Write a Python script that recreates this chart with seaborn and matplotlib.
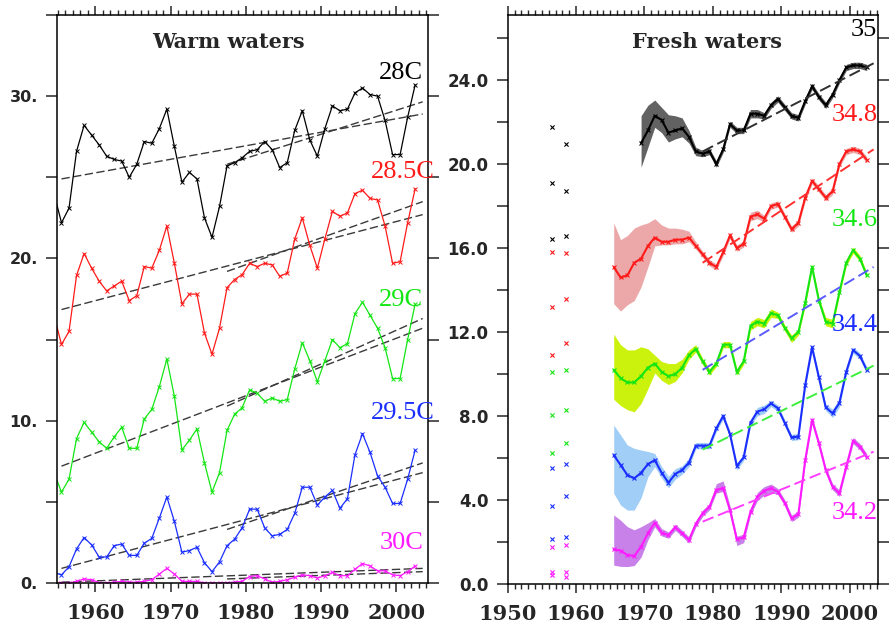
import numpy as np
import matplotlib
matplotlib.use("Agg")
import matplotlib.pyplot as plt
import seaborn as sns

# ==========================================
# DATA - warm waters (left panel), 1954-2002
# ==========================================
warm_years = np.arange(1954, 2003)
warm_28 = [24.0, 22.2, 23.1, 26.6, 28.2, 27.6, 27.0, 26.3, 26.1, 26.0,
           25.0, 25.8, 27.2, 27.1, 28.0, 29.2, 26.9, 24.7, 25.3, 24.9,
           22.5, 21.3, 23.2, 25.7, 25.9, 26.2, 26.6, 26.7, 27.2, 26.7,
           25.6, 25.9, 27.9, 29.1, 27.3, 26.3, 28.0, 29.4, 29.1, 29.2,
           30.2, 30.5, 30.1, 30.0, 28.5, 26.4, 26.4, 28.7, 30.7]
warm_285 = [16.5, 14.7, 15.5, 18.95, 20.3, 19.4, 18.6, 18.0, 18.3, 18.6,
            17.4, 17.7, 19.5, 19.4, 20.5, 22.0, 19.7, 17.2, 17.8, 17.8,
            15.4, 14.1, 15.7, 18.2, 18.7, 19.0, 19.7, 19.5, 19.7, 19.6,
            18.9, 19.1, 21.2, 22.5, 20.8, 19.4, 21.2, 22.9, 22.6, 22.8,
            24.0, 24.2, 23.7, 23.6, 22.0, 19.7, 19.8, 22.2, 24.3]
warm_29 = [6.8, 5.6, 6.4, 8.9, 9.9, 9.3, 8.7, 8.3, 9.0, 9.6,
           8.3, 8.3, 10.1, 10.7, 12.1, 13.8, 11.5, 8.2, 8.8, 9.5,
           7.4, 5.6, 6.8, 9.4, 10.4, 10.8, 11.9, 11.7, 11.2, 11.4,
           11.2, 11.3, 13.2, 14.8, 13.7, 12.4, 13.7, 15.0, 14.5, 14.75,
           16.6, 17.3, 16.5, 15.7, 14.5, 12.6, 12.6, 15.0, 17.2]
warm_295 = [0.65, 0.5, 1.0, 2.1, 2.8, 2.35, 1.6, 1.6, 2.3, 2.4,
            1.7, 1.7, 2.45, 2.75, 4.0, 5.3, 3.8, 1.9, 2.0, 2.2,
            1.25, 0.7, 1.3, 2.3, 2.7, 3.4, 4.55, 4.55, 3.4, 2.9,
            3.0, 3.3, 4.3, 5.9, 5.9, 4.8, 5.3, 5.7, 4.6, 5.2,
            7.9, 9.2, 8.05, 6.6, 5.9, 4.9, 4.9, 6.4, 8.2]
warm_30 = [0.0, 0.0, 0.0, 0.1, 0.25, 0.2, 0.02, 0.0, 0.05, 0.1,
           0.05, 0.05, 0.1, 0.2, 0.55, 0.9, 0.55, 0.1, 0.1, 0.1,
           0.0, 0.0, 0.0, 0.02, 0.05, 0.1, 0.4, 0.45, 0.25, 0.05,
           0.1, 0.2, 0.35, 0.5, 0.45, 0.3, 0.45, 0.65, 0.45, 0.45,
           0.85, 1.2, 1.05, 0.75, 0.75, 0.5, 0.45, 0.7, 1.05]
warm_labels = ['28C', '28.5C', '29C', '29.5C', '30C']

# linear trends: whole record (1955-2003) and recent (1977-2003)
trend_years_full = [1955, 2003]
trend_years_late = [1977, 2003]
warm_trend_full = [(24.9, 28.9), (16.85, 22.7), (7.2, 15.7), (0.9, 6.8), (0.05, 0.9)]
warm_trend_late = [(25.8, 29.65), (19.2, 23.5), (10.9, 16.3), (3.3, 7.4), (0.25, 0.7)]

# ==========================================
# DATA - fresh waters (right panel)
# ==========================================
fresh_years = np.arange(1965, 2003)
fresh_years_35 = np.arange(1969, 2003)
fresh_35 = [21.0, 21.6, 22.3, 22.1, 21.5, 21.6, 21.7, 21.3, 20.6, 20.5,
            20.6, 20.0, 20.7, 21.9, 21.6, 21.6, 22.4, 22.4, 22.3, 22.8,
            23.1, 22.7, 22.3, 22.2, 23.0, 23.7, 23.2, 22.8, 23.3, 24.0,
            24.6, 24.7, 24.7, 24.6]
fresh_35_hi = [1.3, 1.2, 0.75, 0.6, 0.85, 0.7, 0.5, 0.3, 0.2, 0.15,
               0.15, 0.15, 0.15, 0.15, 0.15, 0.15, 0.2, 0.2, 0.15, 0.15,
               0.15, 0.15, 0.15, 0.15, 0.15, 0.15, 0.15, 0.15, 0.15, 0.15,
               0.15, 0.15, 0.15, 0.15]
fresh_35_lo = [1.15, 0.8, 0.55, 0.6, 0.45, 0.4, 0.4, 0.3, 0.2, 0.15,
               0.15, 0.15, 0.15, 0.15, 0.15, 0.15, 0.2, 0.2, 0.15, 0.15,
               0.15, 0.15, 0.15, 0.15, 0.15, 0.15, 0.15, 0.15, 0.15, 0.15,
               0.15, 0.15, 0.15, 0.15]
fresh_348 = [15.1, 14.6, 14.7, 15.3, 15.5, 16.1, 16.5, 16.3, 16.3, 16.4,
             16.4, 16.5, 16.1, 15.7, 15.3, 15.1, 15.8, 16.6, 16.0, 16.2,
             17.5, 17.6, 17.4, 18.0, 18.1, 17.5, 16.9, 17.2, 18.4, 19.2,
             18.8, 18.4, 18.7, 20.0, 20.6, 20.7, 20.6, 20.2]
fresh_348_hi = [2.1, 1.8, 1.9, 1.65, 1.6, 1.1, 0.9, 0.8, 0.65, 0.55,
                0.5, 0.3, 0.2, 0.15, 0.15, 0.15, 0.15, 0.15, 0.15, 0.15,
                0.2, 0.2, 0.15, 0.15, 0.15, 0.15, 0.15, 0.15, 0.15, 0.15,
                0.15, 0.15, 0.15, 0.15, 0.15, 0.15, 0.15, 0.15]
fresh_348_lo = [1.75, 1.6, 1.4, 1.8, 1.35, 1.0, 0.4, 0.15, 0.15, 0.2,
                0.2, 0.2, 0.15, 0.15, 0.15, 0.15, 0.15, 0.15, 0.15, 0.15,
                0.2, 0.2, 0.15, 0.15, 0.15, 0.15, 0.15, 0.15, 0.15, 0.15,
                0.15, 0.15, 0.15, 0.15, 0.15, 0.15, 0.15, 0.15]
fresh_346 = [10.2, 9.8, 9.6, 9.6, 9.9, 10.3, 10.5, 10.1, 9.9, 10.0,
             10.3, 10.9, 11.2, 10.6, 10.1, 10.5, 11.4, 11.4, 10.1, 10.6,
             12.3, 12.5, 12.4, 12.9, 12.8, 12.2, 11.7, 12.0, 13.4, 15.1,
             13.5, 12.5, 12.4, 13.9, 15.3, 15.9, 15.5, 14.7]
fresh_346_hi = [1.7, 1.6, 1.55, 1.55, 1.4, 0.9, 0.4, 0.5, 0.6, 0.5,
                0.4, 0.25, 0.2, 0.15, 0.15, 0.15, 0.15, 0.15, 0.15, 0.15,
                0.2, 0.2, 0.2, 0.2, 0.15, 0.15, 0.15, 0.15, 0.15, 0.15,
                0.15, 0.2, 0.2, 0.15, 0.15, 0.15, 0.15, 0.15]
fresh_346_lo = [1.4, 1.3, 1.3, 1.4, 1.3, 1.0, 0.45, 0.4, 0.4, 0.35,
                0.25, 0.2, 0.15, 0.15, 0.15, 0.15, 0.15, 0.15, 0.15, 0.15,
                0.2, 0.2, 0.2, 0.2, 0.15, 0.15, 0.2, 0.15, 0.15, 0.15,
                0.15, 0.2, 0.2, 0.15, 0.15, 0.15, 0.15, 0.15]
fresh_344 = [6.14, 5.67, 5.19, 5.03, 5.30, 5.71, 5.90, 5.30, 4.83, 5.24,
             5.43, 5.78, 6.59, 6.59, 6.59, 7.41, 8.00, 7.14, 5.62, 6.03,
             7.68, 8.21, 8.32, 8.60, 8.37, 7.68, 6.98, 7.02, 9.48, 11.27,
             9.84, 8.41, 8.13, 8.63, 10.11, 11.14, 10.86, 10.19]
fresh_344_hi = [1.43, 1.43, 1.43, 1.43, 1.08, 0.6, 0.32, 0.3, 0.3, 0.25,
                0.2, 0.2, 0.15, 0.15, 0.15, 0.15, 0.15, 0.15, 0.15, 0.15,
                0.15, 0.2, 0.2, 0.15, 0.15, 0.15, 0.15, 0.15, 0.15, 0.15,
                0.15, 0.15, 0.2, 0.2, 0.15, 0.15, 0.15, 0.15]
fresh_344_lo = [1.82, 1.91, 1.67, 1.51, 1.19, 0.6, 0.31, 0.25, 0.25, 0.25,
                0.2, 0.2, 0.15, 0.15, 0.15, 0.15, 0.15, 0.15, 0.2, 0.15,
                0.15, 0.2, 0.2, 0.15, 0.15, 0.15, 0.15, 0.15, 0.15, 0.15,
                0.15, 0.15, 0.2, 0.2, 0.15, 0.15, 0.15, 0.15]
fresh_342 = [1.65, 1.59, 1.38, 1.33, 1.78, 2.41, 2.92, 2.44, 2.33, 2.70,
             2.41, 2.10, 2.86, 3.37, 3.68, 4.48, 4.56, 3.52, 2.13, 2.22,
             3.44, 4.16, 4.44, 4.56, 4.40, 3.87, 3.13, 3.33, 5.90, 7.81,
             6.70, 5.43, 4.63, 4.32, 5.59, 6.83, 6.54, 6.06]
fresh_342_hi = [1.64, 1.45, 1.35, 1.25, 0.95, 0.5, 0.2, 0.2, 0.15, 0.15,
                0.15, 0.15, 0.15, 0.15, 0.15, 0.3, 0.35, 0.2, 0.15, 0.15,
                0.15, 0.2, 0.2, 0.2, 0.15, 0.15, 0.15, 0.15, 0.15, 0.15,
                0.15, 0.15, 0.15, 0.15, 0.15, 0.15, 0.15, 0.15]
fresh_342_lo = [0.75, 0.75, 0.55, 0.45, 0.5, 0.3, 0.2, 0.15, 0.15, 0.15,
                0.15, 0.15, 0.15, 0.15, 0.15, 0.15, 0.15, 0.15, 0.3, 0.25,
                0.15, 0.2, 0.2, 0.2, 0.15, 0.15, 0.15, 0.15, 0.15, 0.15,
                0.15, 0.15, 0.15, 0.15, 0.15, 0.15, 0.15, 0.15]
fresh_labels = ['35', '34.8', '34.6', '34.4', '34.2']

# isolated early estimates (1956 and 1958), three values per isohaline
early_years = [1956, 1958]
early_35 = [[21.75, 19.08, 16.43], [20.95, 18.71, 16.57]]
early_348 = [[15.8, 13.18, 10.9], [15.75, 13.56, 11.46]]
early_346 = [[10.11, 8.05, 6.22], [10.17, 8.29, 6.7]]
early_344 = [[5.51, 3.71, 2.13], [5.71, 4.19, 2.25]]
early_342 = [[1.78, 0.59, 0.43], [1.86, 0.59, 0.35]]

fresh_trend_years = [1978, 2003]
fresh_trend = [(20.6, 24.8), (15.3, 20.7), (10.2, 15.1), (6.4, 10.4), (2.97, 6.3)]

# ==========================================
# STYLE
# ==========================================
sns.set_style("ticks")
plt.rcParams['font.family'] = ['DejaVu Sans']
plt.rcParams['lines.dashed_pattern'] = [6, 2.5]
plt.rcParams['axes.linewidth'] = 1.1
SERIF = ['Liberation Serif', 'DejaVu Serif']
WIDE_SERIF = ['DejaVu Serif']

line_cols = ['#000000', '#ff1a1a', '#14e614', '#1a2eff', '#ff1aff']
fill_cols = ['#5a5a5a', '#eba3a3', '#c8f200', '#9cccf7', '#c57ae8']
fresh_dash_cols = ['#303030', '#ff3030', '#5a5aff', '#3cf03c', '#ff3cff']

fig = plt.figure(figsize=(8.89, 6.33), dpi=100)
ax1 = fig.add_axes([0.0641, 0.0790, 0.4173, 0.8973])
ax2 = fig.add_axes([0.5711, 0.0774, 0.4162, 0.8989])

# ==========================================
# LEFT PANEL - WARM WATERS
# ==========================================
warm_series = [warm_28, warm_285, warm_29, warm_295, warm_30]
for vals, col, full, late in zip(warm_series, line_cols, warm_trend_full, warm_trend_late):
    sns.lineplot(x=np.array(trend_years_full) + 0.5, y=list(full), ax=ax1,
                 color='#3a3a3a', linestyle='--', linewidth=1.0, legend=False)
    sns.lineplot(x=np.array(trend_years_late) + 0.5, y=list(late), ax=ax1,
                 color='#3a3a3a', linestyle='--', linewidth=1.0, legend=False)
    sns.lineplot(x=warm_years + 0.5, y=vals, ax=ax1, color=col, linewidth=0.9,
                 marker='x', markersize=3, markeredgewidth=0.7,
                 markeredgecolor=col, legend=False)

ax1.set_xlim(1954.9, 2004.2)
ax1.set_ylim(0, 35)
ax1.set_yticks(np.arange(0, 36, 5),
               labels=['0.', '', '10.', '', '20.', '', '30.', ''],
               fontweight='bold', fontsize=11.5)
ax1.set_xticks(np.arange(1960, 2001, 10),
               labels=[str(y) for y in range(1960, 2001, 10)],
               fontweight='bold', fontsize=15, family=WIDE_SERIF)
ax1.set_xticks(np.arange(1955, 2005), minor=True)
ax1.tick_params(axis='y', which='major', direction='out', length=7.7, width=1.1,
                left=True, right=True, pad=6)
ax1.tick_params(axis='x', which='major', direction='out', length=6.5, width=1.1,
                top=True, bottom=True, pad=8)
ax1.tick_params(axis='x', which='minor', direction='out', length=3.8, width=1.0,
                top=True, bottom=True)
ax1.set_xlabel('')
ax1.set_ylabel('')

ax1.text(0.461, 0.952, 'Warm waters', transform=ax1.transAxes, ha='center', va='center',
         fontsize=15, fontweight='bold', family=WIDE_SERIF)
warm_label_pos = [(0.987, 0.898), (1.019, 0.724), (0.987, 0.498), (1.019, 0.299), (0.987, 0.070)]
for lab, col, (tx, ty) in zip(warm_labels, line_cols, warm_label_pos):
    ax1.text(tx, ty, lab, transform=ax1.transAxes, ha='right', va='center',
             fontsize=19, color=col, family=SERIF)

# ==========================================
# RIGHT PANEL - FRESH WATERS
# ==========================================
fresh_series = [
    (fresh_years_35, fresh_35, fresh_35_hi, fresh_35_lo, early_35),
    (fresh_years, fresh_348, fresh_348_hi, fresh_348_lo, early_348),
    (fresh_years, fresh_346, fresh_346_hi, fresh_346_lo, early_346),
    (fresh_years, fresh_344, fresh_344_hi, fresh_344_lo, early_344),
    (fresh_years, fresh_342, fresh_342_hi, fresh_342_lo, early_342),
]
for (yrs, vals, hi, lo, early), col, fcol, dcol, trend in zip(
        fresh_series, line_cols, fill_cols, fresh_dash_cols, fresh_trend):
    vals = np.array(vals)
    ax2.fill_between(yrs + 0.5, vals - np.array(lo), vals + np.array(hi),
                     color=fcol, linewidth=0, alpha=0.95)
    sns.lineplot(x=yrs + 0.5, y=vals, ax=ax2, color=col, linewidth=1.5,
                 marker='x', markersize=3, markeredgewidth=0.8,
                 markeredgecolor=col, legend=False)
    sns.lineplot(x=np.array(fresh_trend_years) + 0.5, y=list(trend), ax=ax2,
                 color=dcol, linestyle='--', linewidth=1.4, legend=False)
    for yr, pts in zip(early_years, early):
        sns.scatterplot(x=[yr + 0.5] * len(pts), y=pts, ax=ax2, color=col,
                        marker='x', s=9, linewidth=0.8, legend=False)

ax2.set_xlim(1950, 2004.1)
ax2.set_ylim(0, 27.1)
ax2.set_yticks(np.arange(0, 27, 2),
               labels=[f'{v:.1f}' if v % 4 == 0 else '' for v in range(0, 27, 2)],
               fontweight='bold', fontsize=12)
ax2.set_xticks(np.arange(1950, 2001, 10),
               labels=[str(y) for y in range(1950, 2001, 10)],
               fontweight='bold', fontsize=15, family=WIDE_SERIF)
ax2.set_xticks(np.arange(1950, 2005), minor=True)
ax2.tick_params(axis='y', which='major', direction='out', length=8, width=1.1,
                left=True, right=True, pad=6)
ax2.tick_params(axis='x', which='major', direction='out', length=6.5, width=1.1,
                top=True, bottom=True, pad=8)
ax2.tick_params(axis='x', which='minor', direction='out', length=3.8, width=1.0,
                top=True, bottom=True)
ax2.set_xlabel('')
ax2.set_ylabel('')

ax2.text(0.539, 0.953, 'Fresh waters', transform=ax2.transAxes, ha='center', va='center',
         fontsize=15, fontweight='bold', family=WIDE_SERIF)
fresh_label_pos = [(0.998, 0.974), (1.0, 0.824), (1.0, 0.640), (1.0, 0.455), (1.0, 0.124)]
for lab, col, (tx, ty) in zip(fresh_labels, line_cols, fresh_label_pos):
    ax2.text(tx, ty, lab, transform=ax2.transAxes, ha='right', va='center',
             fontsize=19, color=col, family=SERIF)

for ax in (ax1, ax2):
    for sp in ax.spines.values():
        sp.set_visible(True)
        sp.set_linewidth(1.1)
        sp.set_color('black')

fig.savefig('out.png', dpi=100)
